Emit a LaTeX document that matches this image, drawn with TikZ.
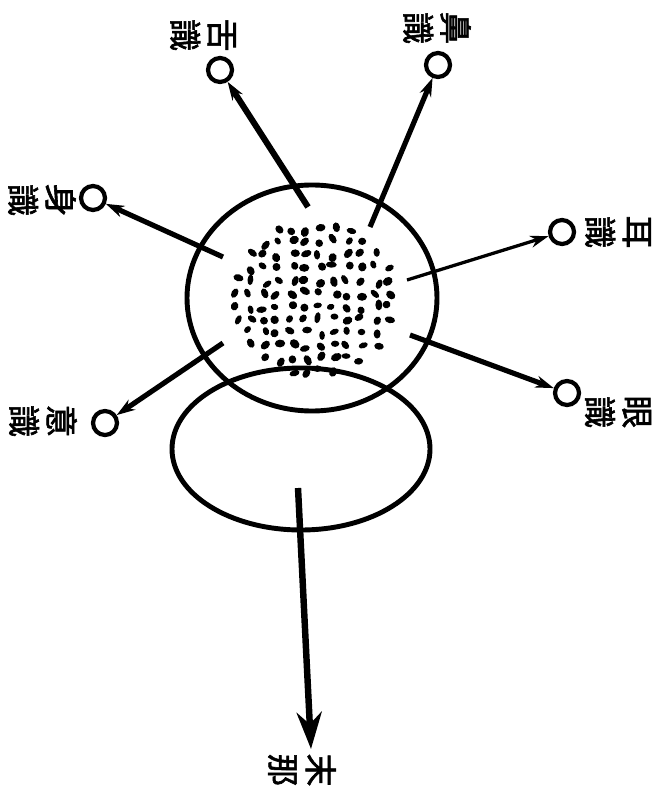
\documentclass[tikz,border=0pt]{standalone}
\usepackage{fontspec}
\usepackage{tikz}
\usetikzlibrary{arrows.meta}
\newfontfamily\cjk[FakeBold=1.8]{Noto Sans CJK TC}
\tikzset{
  ring/.style={circle, draw, line width=3.6pt, minimum size=0.72cm, inner sep=0pt},
  spoke/.style={line width=4.4pt, -{Stealth[length=5.5mm, width=3.6mm]}},
  shi/.style={rotate=-90, align=center, inner sep=0pt, font=\cjk\fontsize{28}{32}\selectfont},
  rim/.style={line width=4.2pt}
}
\begin{document}
\begin{tikzpicture}[x=0.03cm, y=0.03cm]
  \fill[white] (0,0) rectangle (661,-793);
  \useasboundingbox (0,0) rectangle (661,-793);
  % 心
  \draw[rim] (312,-298) ellipse [x radius=125, y radius=113];
  % 末那
  \draw[rim] (301,-449) ellipse [x radius=129, y radius=81];
  % 種子
  \pgfmathsetseed{11}
  \foreach \gx in {-78,-64,...,78}{
    \foreach \gy in {-74,-61,...,74}{
      \pgfmathsetmacro{\inn}{((\gx/84)^2+(\gy/79)^2<1) ? 1 : 0}
      \ifdim\inn pt>0.5pt
        \pgfmathsetmacro{\px}{314+\gx+3.5*rand}
        \pgfmathsetmacro{\py}{-298+\gy+3.5*rand}
        \pgfmathsetmacro{\ang}{180*rnd}
        \pgfmathsetmacro{\rx}{3.8+1.8*rnd}
        \pgfmathsetmacro{\ry}{2.8+1.4*rnd}
        \fill[shift={(\px,\py)}, rotate=\ang] (0,0) ellipse [x radius=\rx, y radius=\ry];
      \fi
    }
  }
  % 六識
  \coordinate (sheS) at (308,-207);
  \node[ring] (sheR) at (220,-70) {};
  \node[shi] (sheL) at (203,-35) {舌\\識};
  \coordinate (biS) at (370,-227);
  \node[ring] (biR) at (438,-65) {};
  \node[shi] (biL) at (437,-28) {鼻\\識};
  \coordinate (erS) at (407,-280);
  \node[ring] (erR) at (562,-232) {};
  \node[shi] (erL) at (618,-232) {耳\\識};
  \coordinate (yanS) at (410,-335);
  \node[ring] (yanR) at (567,-393) {};
  \node[shi] (yanL) at (618,-412) {眼\\識};
  \coordinate (shenS) at (223,-257);
  \node[ring] (shenR) at (93,-198) {};
  \node[shi] (shenL) at (42,-200) {身\\識};
  \coordinate (yiS) at (223,-343);
  \node[ring] (yiR) at (105,-423) {};
  \node[shi] (yiL) at (43,-421) {意\\識};
  \draw[spoke, line width=5.2pt] (sheS) -- (sheR);
  \draw[spoke] (biS) -- (biR);
  \draw[spoke, line width=2.8pt] (erS) -- (erR);
  \draw[spoke] (yanS) -- (yanR);
  \draw[spoke] (shenS) -- (shenR);
  \draw[spoke] (yiS) -- (yiR);
  % 末那
  \coordinate (manaS) at (298,-488);
  \coordinate (manaE) at (311,-749);
  \node[shi] (manaL) at (302,-770) {末\\那};
  \draw[line width=5.5pt, -{Stealth[length=11mm, width=7.5mm]}] (manaS) -- (manaE);
\end{tikzpicture}
\end{document}
